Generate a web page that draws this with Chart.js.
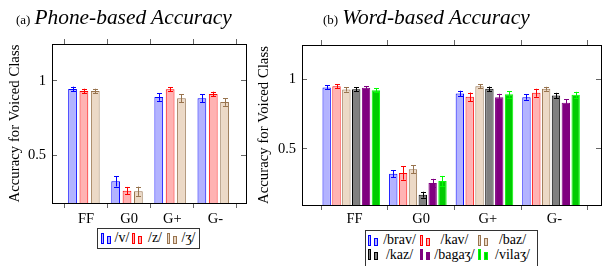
<!DOCTYPE html>
<html>
<head>
<meta charset="utf-8">
<script src="https://cdn.jsdelivr.net/npm/chart.js@4"></script>
<style>
  body { margin: 0; width: 602px; height: 266px; position: relative; overflow: hidden; background: #fff;
         font-family: "Liberation Serif", "DejaVu Serif", serif; color: #000; }
  canvas { position: absolute; top: 0; }
  #phone { left: 0; }
  #word { left: 250px; }
  .title { position: absolute; top: 7px; font-size: 21.4px; line-height: 21px; font-style: italic; white-space: nowrap; }
  .title .tag { font-style: normal; font-size: 13px; margin-right: 4px; }
  .legend { position: absolute; border: 1px solid #333; display: grid; align-items: center; font-size: 14px;
            line-height: 14.6px; box-sizing: border-box; background: #fff; }
  .sw { display: flex; align-items: flex-end; gap: 3px; height: 11px; }
  .sw i { display: block; box-sizing: border-box; border: 1px solid; }
  .sw i:first-child { width: 3px; height: 11px; }
  .sw i:last-child { width: 4px; height: 8px; }
  .legend span { text-align: center; white-space: nowrap; }
  #phoneLegend { left: 97px; top: 228px; width: 103px; height: 21px; padding-left: 3px;
                 grid-template-columns: 11px 20px 11px 24px 11px 21px; }
  #wordLegend { left: 365px; top: 230px; width: 173px; height: 40px; padding: 2px 0 0 2px;
                grid-template-columns: 11px 41px 11px 47px 11px 47px; grid-auto-rows: 14.6px; }
</style>
</head>
<body>
<canvas id="phone" width="260" height="266"></canvas>
<canvas id="word" width="352" height="266"></canvas>
<div class="title" style="left:16px"><span class="tag">(a)</span>Phone-based Accuracy</div>
<div class="title" style="left:323px"><span class="tag">(b)</span>Word-based Accuracy</div>
<div class="legend" id="phoneLegend"></div>
<div class="legend" id="wordLegend"></div>
<script>
// categories and tick labels
const groups = ['FF', 'G0', 'G+', 'G-'];
const yTicks = [0.5, 1];
const yTitle = 'Accuracy for Voiced Class';

// (a) phone-based accuracy, per phone
const phoneNames = ['/v/', '/z/', '/ʒ/'];
const vAcc  = [0.946, 0.324, 0.892, 0.883];
const vErr  = [0.015, 0.035, 0.026, 0.026];
const zAcc  = [0.932, 0.261, 0.944, 0.912];
const zErr  = [0.015, 0.025, 0.013, 0.015];
const zhAcc = [0.932, 0.257, 0.883, 0.858];
const zhErr = [0.015, 0.031, 0.027, 0.026];

// (b) word-based accuracy, per word
const wordNames = ['/brav/', '/kav/', '/baz/', '/kaz/', '/bagaʒ/', '/vilaʒ/'];
const bravAcc  = [0.943, 0.322, 0.900, 0.873];
const bravErr  = [0.015, 0.025, 0.019, 0.019];
const kavAcc   = [0.952, 0.327, 0.875, 0.904];
const kavErr   = [0.013, 0.048, 0.031, 0.029];
const bazAcc   = [0.928, 0.355, 0.952, 0.933];
const bazErr   = [0.015, 0.029, 0.013, 0.014];
const kazAcc   = [0.930, 0.171, 0.933, 0.885];
const kazErr   = [0.015, 0.021, 0.016, 0.019];
const bagazhAcc = [0.940, 0.255, 0.873, 0.832];
const bagazhErr = [0.012, 0.030, 0.024, 0.024];
const vilazhAcc = [0.923, 0.269, 0.893, 0.890];
const vilazhErr = [0.013, 0.037, 0.023, 0.021];

const blue   = {fill: '#b3b3ff', line: '#0000ff'};
const red    = {fill: '#ffb3b3', line: '#ff0000'};
const brown  = {fill: '#ecd9c6', line: '#98744f'};
const black  = {fill: '#808080', line: '#000000'};
const purple = {fill: '#800080', line: '#800080'};
const green  = {fill: '#00cc00', line: '#00ff00'};

// error bars drawn on top of each bar, through the y scale
const errorBars = {
    id: 'errorBars',
    afterDatasetsDraw(chart) {
        const ctx = chart.ctx;
        const y = chart.scales.y;
        ctx.save();
        ctx.lineWidth = 1;
        chart.data.datasets.forEach((ds, k) => {
            const meta = chart.getDatasetMeta(k);
            ctx.strokeStyle = ds.borderColor;
            meta.data.forEach((bar, i) => {
                const v = ds.data[i].y;
                const top = y.getPixelForValue(v + ds.errors[i]);
                const bot = y.getPixelForValue(v - ds.errors[i]);
                const x = Math.round(bar.x) + 0.5;
                ctx.beginPath();
                ctx.moveTo(x, top); ctx.lineTo(x, bot);
                ctx.moveTo(x - 2.5, Math.round(top) + 0.5); ctx.lineTo(x + 2.5, Math.round(top) + 0.5);
                ctx.moveTo(x - 2.5, Math.round(bot) + 0.5); ctx.lineTo(x + 2.5, Math.round(bot) + 0.5);
                ctx.stroke();
            });
        });
        ctx.restore();
    }
};

const family = '"Liberation Serif", "DejaVu Serif", serif';
const tickFont = {family, size: 14.5};
const titleFont = {family, size: 14.8};

function buildChart(id, names, accs, errs, colors, o) {
    const datasets = names.map((n, k) => ({
        label: n,
        data: accs[k].map((v, i) => ({x: i, y: v})),
        errors: errs[k],
        backgroundColor: colors[k].fill,
        borderColor: colors[k].line,
        borderWidth: 1,
        borderSkipped: false,
        barPercentage: o.barPct,
        categoryPercentage: o.catPct
    }));
    const xBase = {
        type: 'linear', min: o.xMin, max: o.xMax, offset: false, bounds: 'data',
        afterBuildTicks: ax => { ax.ticks = groups.map((g, i) => ({value: i + 0.05})); },
        grid: {offset: true, drawOnChartArea: false, drawTicks: true, tickLength: 5, color: '#666'},
        border: {display: true, color: '#000', width: 1}
    };
    const yBase = {
        type: 'linear', min: o.yMin, max: o.yMax, beginAtZero: false,
        afterBuildTicks: ax => { ax.ticks = yTicks.map(v => ({value: v})); },
        grid: {drawOnChartArea: false, drawTicks: true, tickLength: -5, color: '#666'},
        border: {display: true, color: '#000', width: 1}
    };
    return new Chart(document.getElementById(id), {
        type: 'bar',
        data: {datasets},
        options: {
            responsive: false,
            animation: false,
            layout: {padding: o.pad},
            plugins: {legend: {display: false}, tooltip: {enabled: false}},
            scales: {
                x: {...xBase, position: 'bottom',
                    ticks: {font: tickFont, color: '#000', padding: o.xPad, maxRotation: 0, autoSkip: false,
                            callback: (v, i) => groups[i]},
                    afterFit: ax => { ax.height = 40; }},
                x2: {...xBase, position: 'top', ticks: {display: false},
                    afterFit: ax => { ax.height = 0; }},
                y: {...yBase, position: 'left',
                    ticks: {font: tickFont, color: '#000', padding: 11, callback: v => String(v)},
                    title: {display: true, text: yTitle, font: titleFont, color: '#000',
                            padding: {top: o.titlePad, bottom: 0}},
                    afterFit: ax => { ax.width = o.yW; }},
                y2: {...yBase, position: 'right', ticks: {display: false},
                    afterFit: ax => { ax.width = 0; }}
            }
        },
        plugins: [errorBars]
    });
}

function buildLegend(id, names, colors) {
    const box = document.getElementById(id);
    names.forEach((n, k) => {
        const sw = document.createElement('div');
        sw.className = 'sw';
        sw.innerHTML = '<i></i><i></i>';
        sw.querySelectorAll('i').forEach(el => {
            el.style.background = colors[k].fill;
            el.style.borderColor = colors[k].line;
        });
        const t = document.createElement('span');
        t.textContent = n;
        box.appendChild(sw);
        box.appendChild(t);
    });
}

buildLegend('phoneLegend', phoneNames, [blue, red, brown]);
buildLegend('wordLegend', wordNames, [blue, red, brown, black, purple, green]);

// make sure the serif face is ready before the canvases draw text
document.fonts.load('15px "Liberation Serif"').then(() => {
    buildChart('phone', phoneNames, [vAcc, zAcc, zhAcc], [vErr, zErr, zhErr], [blue, red, brown], {
        xMin: -0.74, xMax: 3.76, yMin: 0.178, yMax: 1.248,
        barPct: 0.77, catPct: 0.79, yW: 52, xPad: 2.8, titlePad: 6.1,
        pad: {left: 0, right: 14, top: 44, bottom: 23}
    });

    buildChart('word', wordNames,
        [bravAcc, kavAcc, bazAcc, kazAcc, bagazhAcc, vilazhAcc],
        [bravErr, kavErr, bazErr, kazErr, bagazhErr, vilazhErr],
        [blue, red, brown, black, purple, green], {
        xMin: -0.74, xMax: 3.75, yMin: 0.097, yMax: 1.248,
        barPct: 0.85, catPct: 0.887, yW: 52, xPad: 0.8, titlePad: 5.1,
        pad: {left: 0, right: 1, top: 45, bottom: 21}
    });
});
</script>
</body>
</html>
